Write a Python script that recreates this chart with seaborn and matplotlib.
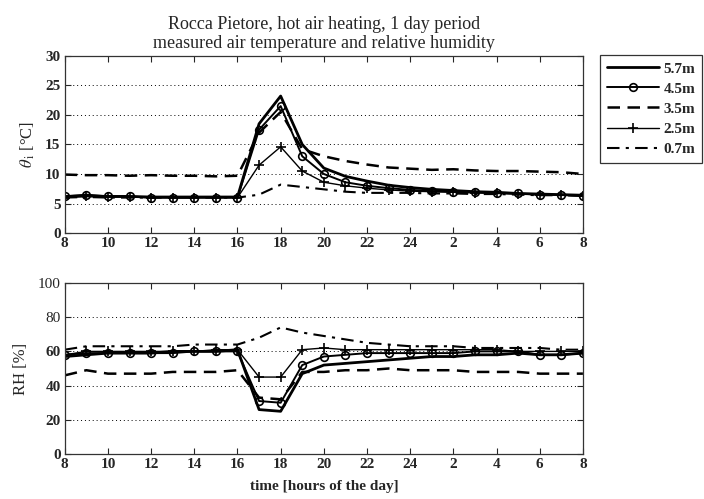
import numpy as np
import pandas as pd
import matplotlib
matplotlib.use("Agg")
import matplotlib.pyplot as plt
import seaborn as sns

# hours from 8 am to 8 am the next day (8..32)
hours = list(range(8, 33))
tick_pos = list(range(8, 33, 2))
tick_labels = ["8", "10", "12", "14", "16", "18", "20", "22", "24", "2", "4", "6", "8"]
heights = ["5.7m", "4.5m", "3.5m", "2.5m", "0.7m"]

# air temperature [C]
temp_57 = [6.2, 6.3, 6.2, 6.2, 6.1, 6.1, 6.1, 6.1, 6.1, 18.5, 23.2, 15.0, 11.0, 9.6, 8.8,
           8.1, 7.7, 7.4, 7.2, 7.0, 6.9, 6.7, 6.6, 6.5, 6.4]
temp_45 = [6.2, 6.5, 6.2, 6.2, 6.0, 6.0, 6.0, 6.0, 6.0, 17.5, 21.5, 13.0, 10.0, 8.6, 8.0,
           7.6, 7.3, 7.1, 7.0, 6.9, 6.8, 6.7, 6.5, 6.5, 6.3]
temp_35 = [9.9, 9.8, 9.8, 9.7, 9.8, 9.7, 9.7, 9.6, 9.7, 17.0, 20.5, 14.2, 13.0, 12.2, 11.6,
           11.1, 10.9, 10.7, 10.8, 10.6, 10.5, 10.5, 10.4, 10.3, 10.0]
temp_25 = [6.0, 6.2, 6.1, 6.1, 6.0, 6.0, 6.0, 6.0, 6.0, 11.5, 14.6, 10.5, 8.6, 8.0, 7.6,
           7.3, 7.1, 7.0, 6.9, 6.8, 6.7, 6.6, 6.5, 6.4, 6.3]
temp_07 = [6.0, 6.1, 6.0, 6.0, 6.0, 6.0, 6.0, 6.0, 6.0, 6.5, 8.2, 7.8, 7.4, 7.0, 6.8,
           6.8, 6.8, 6.7, 6.7, 6.6, 6.6, 6.5, 6.4, 6.4, 6.3]

# relative humidity [%]
rh_57 = [57, 58, 59, 59, 59, 60, 60, 60, 61, 26, 25, 47, 52, 53, 54,
         55, 56, 57, 57, 58, 58, 59, 58, 58, 59]
rh_45 = [58, 59, 59, 59, 59, 59, 60, 60, 60, 31, 30, 52, 57, 58, 59,
         59, 59, 59, 59, 60, 60, 60, 58, 58, 59]
rh_35 = [46, 49, 47, 47, 47, 48, 48, 48, 49, 33, 32, 48, 48, 49, 49,
         50, 49, 49, 49, 48, 48, 48, 47, 47, 47]
rh_25 = [58, 60, 60, 60, 60, 60, 60, 61, 61, 45, 45, 61, 62, 61, 61,
         61, 61, 61, 61, 61, 61, 60, 60, 60, 60]
rh_07 = [61, 63, 63, 63, 63, 63, 64, 64, 64, 68, 74, 71, 69, 67, 65,
         64, 63, 63, 63, 62, 62, 62, 62, 61, 61]

styles = {
    "5.7m": dict(ls="-", lw=2.0, marker=None, dashes=None),
    "4.5m": dict(ls="-", lw=1.4, marker="o", dashes=None),
    "3.5m": dict(ls="--", lw=1.8, marker=None, dashes=(5, 3)),
    "2.5m": dict(ls="-", lw=1.0, marker="+", dashes=None),
    "0.7m": dict(ls="-.", lw=1.5, marker=None, dashes=(6, 3, 1.5, 3)),
}

sns.set_theme(style="ticks")
plt.rcParams['font.family'] = ['Liberation Serif', 'DejaVu Serif']
plt.rcParams['mathtext.fontset'] = 'stix'

fig = plt.figure(figsize=(7.04, 4.99), dpi=100)
ax1 = fig.add_axes([0.092, 0.533, 0.736, 0.355])
ax2 = fig.add_axes([0.092, 0.090, 0.736, 0.343])

temps = [temp_57, temp_45, temp_35, temp_25, temp_07]
rhs = [rh_57, rh_45, rh_35, rh_25, rh_07]

for ax, series in [(ax1, temps), (ax2, rhs)]:
    for name, vals in zip(heights, series):
        st = styles[name]
        sns.lineplot(x=hours, y=vals, ax=ax, color="black", label=name, legend=False,
                     linewidth=st["lw"])
        l = ax.lines[-1]
        l.set_linestyle(st["ls"])
        if st["dashes"] is not None:
            l.set_dashes(st["dashes"])
        if st["marker"] == "o":
            l.set_marker("o")
            l.set_markersize(5.5)
            l.set_markerfacecolor("none")
            l.set_markeredgecolor("black")
            l.set_markeredgewidth(1.2)
        elif st["marker"] == "+":
            l.set_marker("+")
            l.set_markersize(7.5)
            l.set_markeredgecolor("black")
            l.set_markeredgewidth(1.2)

for ax in (ax1, ax2):
    ax.set_xlim(8, 32)
    ax.set_xticks(tick_pos)
    ax.set_xticklabels(tick_labels)
    ax.tick_params(direction="in", top=True, right=True, length=4, width=0.8,
                   labelsize=11, pad=3)
    for lab in ax.get_xticklabels() + ax.get_yticklabels():
        lab.set_fontweight("bold")
    ax.yaxis.grid(True, linestyle=(0, (1, 3)), color="black", linewidth=0.7)
    ax.xaxis.grid(False)
    for sp in ax.spines.values():
        sp.set_linewidth(0.9)
        sp.set_color("#333333")

ax1.set_ylim(0, 30)
ax1.set_yticks([0, 5, 10, 15, 20, 25, 30])
ax1.set_ylabel(r"$\theta_{\,\mathrm{i}}$ [°C]", fontsize=12, labelpad=6)
ax2.set_ylim(0, 100)
ax2.set_yticks([0, 20, 40, 60, 80, 100])
ax2.set_ylabel("RH [%]", fontsize=12, labelpad=6)
ax2.set_xlabel("time [hours of the day]", fontsize=11, fontweight="bold", labelpad=6)

ax1.set_title("Rocca Pietore, hot air heating, 1 day period\n"
              "measured air temperature and relative humidity",
              fontsize=13, linespacing=1.1, pad=6)

handles, labels = ax1.get_legend_handles_labels()
leg = fig.legend(handles, labels, loc="upper left", bbox_to_anchor=(0.842, 0.905),
                 frameon=True, fancybox=False, edgecolor="black", fontsize=11,
                 handlelength=3.4, borderpad=0.45, labelspacing=0.42, handletextpad=0.3)
leg.get_frame().set_linewidth(0.9)
for t in leg.get_texts():
    t.set_fontweight("bold")

fig.savefig("out.png", dpi=100)
